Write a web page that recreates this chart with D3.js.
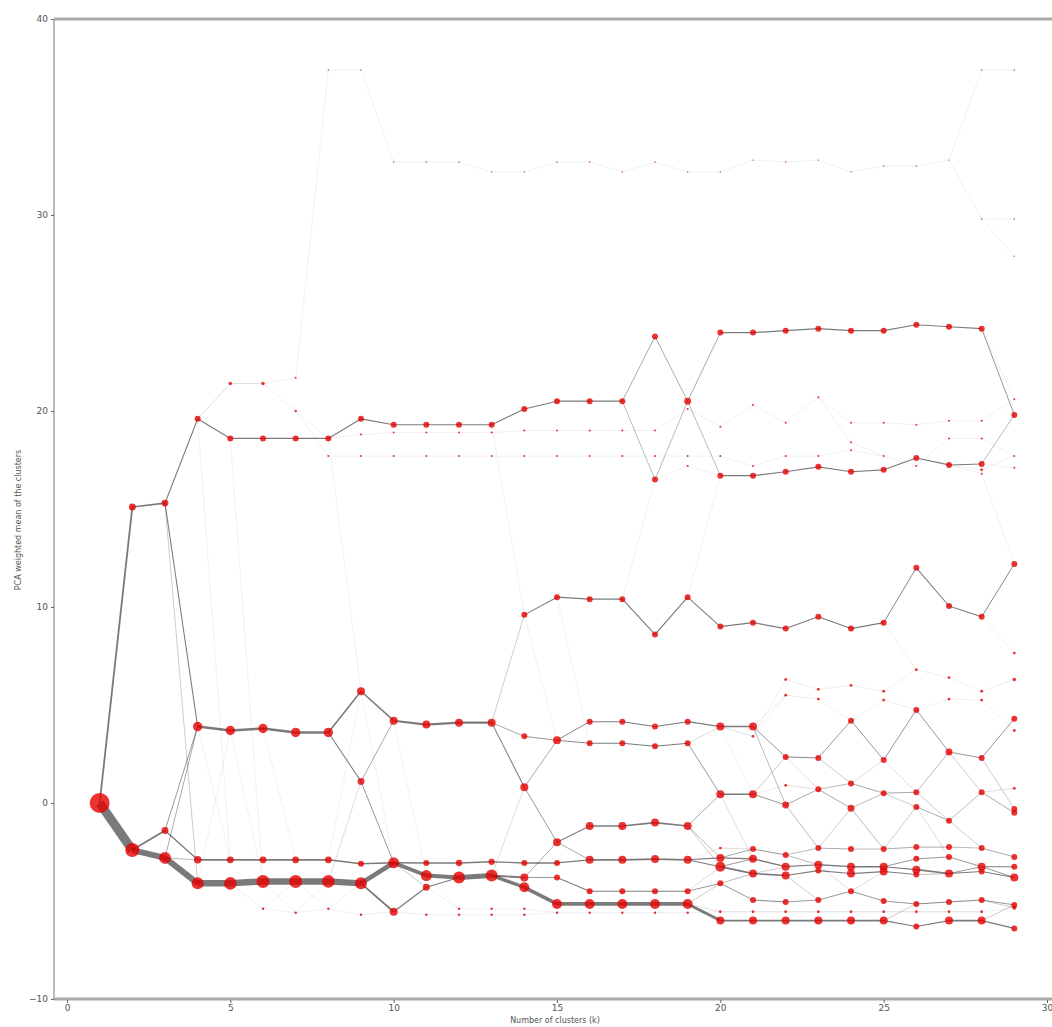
<!DOCTYPE html>
<html>
<head>
<meta charset="utf-8">
<script src="https://cdn.jsdelivr.net/npm/d3@7"></script>
<style>
  html, body { margin: 0; padding: 0; background: #fff; }
  svg { display: block; font-family: "DejaVu Sans", sans-serif; }
</style>
</head>
<body>
<div id="chart"></div>
<script>
// clustergram: mean of each cluster (PCA weighted) for k = 1..29
// each entry: [mean, share of observations %]
const clusters = [
  /* k=1  */ [[0, 100]],
  /* k=2  */ [[15.1, 12], [-2.4, 50]],
  /* k=3  */ [[15.3, 12], [-1.4, 12], [-2.8, 36]],
  /* k=4  */ [[19.6, 9], [3.9, 22], [-2.9, 14], [-4.1, 36]],
  /* k=5  */ [[21.4, 3], [18.6, 9], [3.7, 22], [-2.9, 12], [-4.1, 40]],
  /* k=6  */ [[21.4, 3], [18.6, 9], [3.8, 22], [-2.9, 12], [-4.0, 42], [-5.4, 1.5]],
  /* k=7  */ [[21.7, 1], [20.0, 1.5], [18.6, 9], [3.6, 22], [-2.9, 12], [-4.0, 42], [-5.6, 1.5]],
  /* k=8  */ [[37.4, 0.5], [18.6, 9], [17.7, 1], [3.6, 22], [-2.9, 12], [-4.0, 40], [-5.4, 1.5]],
  /* k=9  */ [[37.4, 0.5], [19.6, 9], [18.8, 1], [17.7, 1], [5.7, 16], [1.1, 12], [-3.1, 9], [-4.1, 36], [-5.7, 1.5]],
  /* k=10 */ [[32.7, 0.5], [19.3, 9], [18.9, 1], [17.7, 1], [4.2, 16], [-3.05, 30], [-5.55, 16]],
  /* k=11 */ [[32.7, 0.5], [19.3, 9], [18.9, 1], [17.7, 1], [4.0, 16], [-3.06, 9], [-3.7, 30], [-4.3, 12], [-5.7, 1.5]],
  /* k=12 */ [[32.7, 0.5], [19.3, 9], [18.9, 1], [17.7, 1], [4.1, 16], [-3.06, 10], [-3.8, 36], [-5.4, 1.5], [-5.7, 1.5]],
  /* k=13 */ [[32.2, 0.5], [19.3, 9], [18.9, 1], [17.7, 1], [4.1, 16], [-3.0, 10], [-3.7, 36], [-5.4, 1.5], [-5.7, 1.5]],
  /* k=14 */ [[32.2, 0.5], [20.1, 9], [19.0, 1], [17.7, 1], [9.6, 9], [3.4, 9], [0.8, 16], [-3.06, 9], [-3.8, 16], [-4.3, 25], [-5.4, 1.5], [-5.7, 1.5]],
  /* k=15 */ [[32.7, 0.5], [20.5, 9], [19.0, 1], [17.7, 1], [10.5, 9], [3.2, 16], [-2.0, 16], [-3.06, 9], [-3.8, 9], [-5.15, 25], [-5.6, 1.5]],
  /* k=16 */ [[32.7, 0.5], [20.5, 9], [19.0, 1], [17.7, 1], [10.4, 9], [4.15, 9], [3.05, 9], [-1.17, 16], [-2.9, 16], [-4.5, 9], [-5.15, 25], [-5.6, 1.5]],
  /* k=17 */ [[32.2, 0.5], [20.5, 9], [19.0, 1], [17.7, 1], [10.4, 9], [4.15, 9], [3.05, 9], [-1.17, 16], [-2.9, 16], [-4.5, 9], [-5.15, 25], [-5.6, 1.5]],
  /* k=18 */ [[32.7, 0.5], [23.8, 9], [19.0, 1], [17.7, 1], [16.5, 9], [8.6, 9], [3.9, 9], [2.9, 9], [-1.0, 16], [-2.86, 16], [-4.5, 9], [-5.15, 25], [-5.6, 1.5]],
  /* k=19 */ [[32.2, 0.5], [20.5, 12], [20.1, 1], [17.7, 1], [17.2, 1], [10.5, 9], [4.15, 9], [3.05, 9], [-1.17, 16], [-2.9, 16], [-4.5, 9], [-5.15, 25], [-5.6, 1.5]],
  /* k=20 */ [[32.2, 0.5], [24.0, 9], [19.2, 1], [17.7, 1], [16.7, 9], [9.0, 9], [3.9, 16], [0.45, 16], [-2.3, 2], [-2.8, 16], [-3.25, 25], [-4.1, 9], [-5.55, 2], [-6.0, 16]],
  /* k=21 */ [[32.8, 0.5], [24.0, 9], [20.3, 1], [17.2, 1], [16.7, 9], [9.2, 9], [3.9, 16], [3.4, 2], [0.45, 16], [-2.35, 9], [-2.85, 16], [-3.6, 16], [-4.95, 9], [-5.55, 2], [-6.0, 16]],
  /* k=22 */ [[32.7, 0.5], [24.1, 9], [19.4, 1], [17.7, 1], [16.9, 9], [8.9, 9], [6.3, 2], [5.5, 2], [2.35, 9], [0.9, 2], [-0.1, 12], [-2.65, 9], [-3.25, 16], [-3.7, 16], [-5.05, 9], [-5.55, 2], [-6.0, 16]],
  /* k=23 */ [[32.8, 0.5], [24.2, 9], [20.7, 1], [17.7, 1], [17.15, 9], [9.5, 9], [5.8, 2], [5.3, 2], [2.3, 9], [0.7, 9], [-2.3, 9], [-3.15, 16], [-3.45, 9], [-4.95, 9], [-5.55, 2], [-6.0, 16]],
  /* k=24 */ [[32.2, 0.5], [24.1, 9], [19.4, 1], [18.4, 1], [18.0, 1], [16.9, 9], [8.9, 9], [6.0, 2], [4.2, 9], [1.0, 9], [-0.27, 12], [-2.35, 9], [-3.25, 16], [-3.6, 16], [-4.5, 9], [-5.55, 2], [-6.0, 16]],
  /* k=25 */ [[32.5, 0.5], [24.1, 9], [19.4, 1], [17.7, 1], [17.0, 9], [9.2, 9], [5.7, 2], [5.25, 2], [2.2, 9], [0.5, 9], [-2.35, 9], [-3.25, 16], [-3.5, 16], [-5.0, 9], [-5.55, 2], [-6.0, 16]],
  /* k=26 */ [[32.5, 0.5], [24.4, 9], [19.3, 1], [17.6, 9], [17.2, 1], [12.0, 9], [6.8, 2], [4.75, 9], [0.55, 9], [-0.2, 9], [-2.25, 9], [-2.85, 9], [-3.4, 16], [-3.65, 9], [-5.15, 9], [-5.55, 2], [-6.3, 9]],
  /* k=27 */ [[32.8, 0.5], [24.3, 9], [19.5, 1], [18.6, 1], [17.25, 9], [10.05, 9], [6.4, 2], [5.3, 2], [2.6, 12], [-0.9, 9], [-2.25, 9], [-2.75, 9], [-3.6, 16], [-5.05, 9], [-5.55, 2], [-6.0, 16]],
  /* k=28 */ [[37.4, 0.5], [29.8, 0.5], [24.2, 9], [19.5, 1], [18.6, 1], [17.3, 9], [17.0, 2], [16.8, 1], [9.5, 9], [5.7, 2], [5.25, 2], [2.3, 9], [0.55, 9], [-2.3, 9], [-3.25, 16], [-3.5, 9], [-4.95, 9], [-5.55, 2], [-6.0, 16]],
  /* k=29 */ [[37.4, 0.5], [29.8, 0.5], [27.9, 0.5], [20.6, 1], [19.8, 9], [17.7, 1], [17.1, 1], [12.2, 9], [7.65, 2], [6.3, 3], [4.3, 9], [3.7, 2], [0.75, 2], [-0.3, 9], [-0.5, 9], [-2.75, 9], [-3.25, 9], [-3.8, 16], [-5.2, 9], [-5.35, 4], [-6.4, 9]]
];

// links between a cluster at k and a cluster at k+1: [k, mean at k, mean at k+1, shared %]
const links = [
  [1, 0, -2.4, 70], [1, 0, 15.1, 14],
  [2, 15.1, 15.3, 12], [2, -2.4, -1.4, 14], [2, -2.4, -2.8, 45],
  [3, 15.3, 19.6, 9], [3, 15.3, 3.9, 8], [3, 15.3, -4.1, 3], [3, -1.4, 3.9, 6], [3, -1.4, -2.9, 10],
  [3, -2.8, 3.9, 5], [3, -2.8, -4.1, 48], [3, -2.8, -2.9, 4],
  [4, 19.6, 18.6, 9], [4, 19.6, 21.4, 2], [4, 3.9, 3.7, 20], [4, 3.9, -2.9, 1], [4, -2.9, -2.9, 14],
  [4, -4.1, -4.1, 50], [4, -4.1, 3.7, 1], [4, 19.6, -2.9, 0.4],
  [5, 21.4, 21.4, 2], [5, 18.6, 18.6, 9], [5, 3.7, 3.8, 20], [5, -2.9, -2.9, 14], [5, -4.1, -4.0, 50],
  [5, -4.1, -5.4, 1.5], [5, 3.7, -4.0, 1], [5, 18.6, -4.0, 0.4],
  [6, 21.4, 21.7, 1], [6, 21.4, 20.0, 1], [6, 18.6, 18.6, 9], [6, 3.8, 3.6, 20], [6, -2.9, -2.9, 14],
  [6, -4.0, -4.0, 50], [6, -5.4, -5.6, 1], [6, -4.0, -5.6, 1], [6, -5.4, -4.0, 1], [6, 3.8, -2.9, 0.8],
  [7, 21.7, 37.4, 0.3], [7, 20.0, 17.7, 1], [7, 20.0, 18.6, 0.5], [7, 18.6, 18.6, 9], [7, 3.6, 3.6, 20],
  [7, -2.9, -2.9, 14], [7, -4.0, -4.0, 50], [7, -5.6, -5.4, 1], [7, -5.6, -4.0, 0.8], [7, -4.0, -5.4, 0.8],
  [8, 37.4, 37.4, 0.3], [8, 18.6, 19.6, 9], [8, 18.6, 18.8, 1], [8, 17.7, 17.7, 1], [8, 3.6, 5.7, 12],
  [8, 3.6, 1.1, 8], [8, -2.9, -3.1, 12], [8, -4.0, -4.1, 48], [8, -5.4, -5.7, 1], [8, -4.0, 1.1, 2],
  [8, -2.9, 5.7, 1], [8, -5.4, -4.1, 0.8], [8, 18.6, 5.7, 0.5],
  [9, 37.4, 32.7, 0.3], [9, 19.6, 19.3, 9], [9, 18.8, 18.9, 1], [9, 17.7, 17.7, 1], [9, 5.7, 4.2, 12],
  [9, 1.1, 4.2, 5], [9, 1.1, -3.05, 6], [9, -3.1, -3.05, 12], [9, -4.1, -3.05, 35], [9, -4.1, -5.55, 14],
  [9, -5.7, -5.55, 1.5], [9, 5.7, -3.05, 1],
  [10, 32.7, 32.7, 0.3], [10, 19.3, 19.3, 9], [10, 18.9, 18.9, 1], [10, 17.7, 17.7, 1], [10, 4.2, 4.0, 16],
  [10, -3.05, -3.06, 12], [10, -3.05, -3.7, 30], [10, -5.55, -4.3, 10], [10, -5.55, -5.7, 1.5],
  [10, -3.05, -4.3, 3], [10, 4.2, -3.7, 1],
  [11, 32.7, 32.7, 0.3], [11, 19.3, 19.3, 9], [11, 18.9, 18.9, 1], [11, 17.7, 17.7, 1], [11, 4.0, 4.1, 16],
  [11, -3.06, -3.06, 12], [11, -3.7, -3.8, 30], [11, -4.3, -3.8, 9], [11, -4.3, -5.4, 1], [11, -5.7, -5.7, 1.5],
  [11, -3.7, -5.4, 0.5],
  [12, 32.7, 32.2, 0.3], [12, 19.3, 19.3, 9], [12, 18.9, 18.9, 1], [12, 17.7, 17.7, 1], [12, 4.1, 4.1, 16],
  [12, -3.06, -3.0, 12], [12, -3.8, -3.7, 40], [12, -5.4, -5.4, 1], [12, -5.7, -5.7, 1.5],
  [13, 32.2, 32.2, 0.3], [13, 19.3, 20.1, 9], [13, 18.9, 19.0, 1], [13, 17.7, 17.7, 1], [13, 19.3, 9.6, 1],
  [13, 4.1, 9.6, 3], [13, 4.1, 3.4, 5], [13, 4.1, 0.8, 8], [13, -3.0, -3.06, 10], [13, -3.7, -3.8, 14],
  [13, -3.7, -4.3, 26], [13, -3.7, 0.8, 2], [13, -5.4, -5.4, 1], [13, -5.7, -5.7, 1.5],
  [14, 32.2, 32.7, 0.3], [14, 20.1, 20.5, 9], [14, 19.0, 19.0, 1], [14, 17.7, 17.7, 1], [14, 9.6, 10.5, 8],
  [14, 3.4, 3.2, 6], [14, 0.8, 3.2, 5], [14, 0.8, -2.0, 6], [14, -3.06, -3.06, 10], [14, -3.8, -3.8, 6],
  [14, -3.8, -2.0, 5], [14, -4.3, -5.15, 28], [14, -5.4, -5.6, 1], [14, -5.7, -5.6, 1], [14, 9.6, 3.2, 1],
  [15, 32.7, 32.7, 0.3], [15, 20.5, 20.5, 9], [15, 19.0, 19.0, 1], [15, 17.7, 17.7, 1], [15, 10.5, 10.4, 9],
  [15, 3.2, 4.15, 7], [15, 3.2, 3.05, 7], [15, -2.0, -1.17, 8], [15, -2.0, -2.9, 5], [15, -3.06, -2.9, 10],
  [15, -3.8, -4.5, 8], [15, -5.15, -5.15, 28], [15, -5.6, -5.6, 1.5], [15, 10.5, 3.05, 0.8],
  [16, 32.7, 32.2, 0.3], [16, 20.5, 20.5, 9], [16, 19.0, 19.0, 1], [16, 17.7, 17.7, 1], [16, 10.4, 10.4, 9],
  [16, 4.15, 4.15, 8], [16, 3.05, 3.05, 8], [16, -1.17, -1.17, 12], [16, -2.9, -2.9, 14], [16, -4.5, -4.5, 8],
  [16, -5.15, -5.15, 28], [16, -5.6, -5.6, 1.5],
  [17, 32.2, 32.7, 0.3], [17, 20.5, 23.8, 5], [17, 20.5, 16.5, 4], [17, 19.0, 19.0, 1], [17, 17.7, 17.7, 1],
  [17, 10.4, 8.6, 9], [17, 4.15, 3.9, 8], [17, 3.05, 2.9, 8], [17, -1.17, -1.0, 12], [17, -2.9, -2.86, 14],
  [17, -4.5, -4.5, 8], [17, -5.15, -5.15, 28], [17, -5.6, -5.6, 1.5], [17, 10.4, 16.5, 1],
  [18, 32.7, 32.2, 0.3], [18, 23.8, 20.5, 5], [18, 16.5, 20.5, 4], [18, 19.0, 20.1, 1], [18, 17.7, 17.7, 1],
  [18, 16.5, 17.2, 0.5], [18, 8.6, 10.5, 9], [18, 3.9, 4.15, 8], [18, 2.9, 3.05, 8], [18, -1.0, -1.17, 12],
  [18, -2.86, -2.9, 14], [18, -4.5, -4.5, 8], [18, -5.15, -5.15, 28], [18, -5.6, -5.6, 1.5],
  [19, 32.2, 32.2, 0.3], [19, 20.5, 24.0, 5], [19, 20.5, 16.7, 4], [19, 20.1, 19.2, 1], [19, 17.7, 17.7, 1],
  [19, 17.2, 16.7, 0.5], [19, 10.5, 9.0, 8], [19, 10.5, 16.7, 1], [19, 4.15, 3.9, 9], [19, 3.05, 0.45, 6],
  [19, 3.05, 3.9, 2], [19, -1.17, 0.45, 5], [19, -1.17, -2.8, 4], [19, -1.17, -3.25, 3], [19, -2.9, -2.8, 8],
  [19, -2.9, -3.25, 8], [19, -4.5, -4.1, 6], [19, -4.5, -3.25, 2], [19, -5.15, -5.55, 2], [19, -5.15, -6.0, 22],
  [19, -5.15, -4.1, 3], [19, -5.6, -5.55, 1], [19, -2.9, -2.3, 1],
  [20, 32.2, 32.8, 0.3], [20, 24.0, 24.0, 9], [20, 19.2, 20.3, 1], [20, 17.7, 17.2, 1], [20, 16.7, 16.7, 9],
  [20, 9.0, 9.2, 9], [20, 3.9, 3.9, 12], [20, 3.9, 3.4, 2], [20, 0.45, 0.45, 12], [20, -2.3, -2.35, 2],
  [20, -2.8, -2.35, 5], [20, -2.8, -2.85, 10], [20, -3.25, -2.85, 6], [20, -3.25, -3.6, 14], [20, -4.1, -3.6, 4],
  [20, -4.1, -4.95, 6], [20, -5.55, -5.55, 2], [20, -6.0, -6.0, 14], [20, 0.45, -2.85, 2], [20, 3.9, 0.45, 1],
  [21, 32.8, 32.7, 0.3], [21, 24.0, 24.1, 9], [21, 20.3, 19.4, 1], [21, 17.2, 17.7, 1], [21, 16.7, 16.9, 9],
  [21, 9.2, 8.9, 9], [21, 3.4, 6.3, 1.5], [21, 3.4, 5.5, 1], [21, 3.9, 2.35, 6], [21, 3.9, -0.1, 4],
  [21, 0.45, -0.1, 6], [21, 0.45, 2.35, 3], [21, 0.45, 0.9, 1.5], [21, -2.35, -2.65, 6], [21, -2.85, -3.25, 10],
  [21, -3.6, -3.7, 12], [21, -3.6, -3.25, 3], [21, -4.95, -5.05, 7], [21, -5.55, -5.55, 2], [21, -6.0, -6.0, 14],
  [21, 3.9, 5.5, 1],
  [22, 32.7, 32.8, 0.3], [22, 24.1, 24.2, 9], [22, 19.4, 20.7, 1], [22, 17.7, 17.7, 1], [22, 16.9, 17.15, 9],
  [22, 8.9, 9.5, 9], [22, 6.3, 5.8, 1.5], [22, 5.5, 5.3, 1.5], [22, 2.35, 2.3, 7], [22, 0.9, 0.7, 2],
  [22, -0.1, 0.7, 5], [22, -0.1, -2.3, 4], [22, -2.65, -2.3, 4], [22, -2.65, -3.15, 4], [22, -3.25, -3.15, 9],
  [22, -3.7, -3.45, 8], [22, -3.7, -4.95, 3], [22, -5.05, -4.95, 6], [22, -5.55, -5.55, 2], [22, -6.0, -6.0, 14],
  [22, 2.35, 0.7, 2],
  [23, 32.8, 32.2, 0.3], [23, 24.2, 24.1, 9], [23, 20.7, 19.4, 1], [23, 20.7, 18.4, 0.5], [23, 17.7, 18.0, 1],
  [23, 17.15, 16.9, 9], [23, 9.5, 8.9, 9], [23, 5.8, 6.0, 1.5], [23, 5.3, 4.2, 1], [23, 2.3, 4.2, 6],
  [23, 2.3, 1.0, 3], [23, 0.7, 1.0, 4], [23, 0.7, -0.27, 5], [23, -2.3, -0.27, 3], [23, -2.3, -2.35, 5],
  [23, -3.15, -3.25, 10], [23, -3.45, -3.6, 8], [23, -4.95, -4.5, 6], [23, -5.55, -5.55, 2], [23, -6.0, -6.0, 14],
  [23, -3.15, -4.5, 2],
  [24, 32.2, 32.5, 0.3], [24, 24.1, 24.1, 9], [24, 19.4, 19.4, 1], [24, 18.4, 17.7, 0.5], [24, 18.0, 17.7, 0.5],
  [24, 16.9, 17.0, 9], [24, 8.9, 9.2, 9], [24, 6.0, 5.7, 1.5], [24, 4.2, 5.25, 1], [24, 4.2, 2.2, 6],
  [24, 1.0, 2.2, 2], [24, 1.0, 0.5, 5], [24, -0.27, 0.5, 4], [24, -0.27, -2.35, 4], [24, -2.35, -2.35, 4],
  [24, -3.25, -3.25, 12], [24, -3.6, -3.5, 10], [24, -4.5, -5.0, 6], [24, -4.5, -3.5, 2], [24, -5.55, -5.55, 2],
  [24, -6.0, -6.0, 14],
  [25, 32.5, 32.5, 0.3], [25, 24.1, 24.4, 9], [25, 19.4, 19.3, 1], [25, 17.7, 17.2, 1], [25, 17.0, 17.6, 9],
  [25, 9.2, 12.0, 7], [25, 9.2, 6.8, 1], [25, 5.7, 6.8, 1], [25, 5.25, 4.75, 1.5], [25, 2.2, 4.75, 6],
  [25, 2.2, 0.55, 2], [25, 0.5, 0.55, 5], [25, 0.5, -0.2, 3], [25, -2.35, -0.2, 3], [25, -2.35, -2.25, 5],
  [25, -3.25, -2.85, 6], [25, -3.25, -3.4, 8], [25, -3.5, -3.65, 8], [25, -5.0, -5.15, 6], [25, -5.55, -5.55, 2],
  [25, -6.0, -6.3, 9], [25, -6.0, -5.15, 3],
  [26, 32.5, 32.8, 0.3], [26, 24.4, 24.3, 9], [26, 19.3, 19.5, 1], [26, 17.6, 17.25, 9], [26, 17.2, 18.6, 0.5],
  [26, 12.0, 10.05, 8], [26, 6.8, 6.4, 1.5], [26, 4.75, 5.3, 1], [26, 4.75, 2.6, 6], [26, 0.55, 2.6, 4],
  [26, 0.55, -0.9, 3], [26, -0.2, -0.9, 5], [26, -2.25, -2.25, 5], [26, -2.85, -2.75, 6], [26, -3.4, -3.6, 12],
  [26, -3.65, -3.6, 4], [26, -5.15, -5.05, 7], [26, -5.55, -5.55, 2], [26, -6.3, -6.0, 9], [26, -0.2, -2.75, 2],
  [27, 32.8, 37.4, 0.3], [27, 32.8, 29.8, 0.3], [27, 24.3, 24.2, 9], [27, 19.5, 19.5, 1], [27, 18.6, 18.6, 0.8],
  [27, 17.25, 17.3, 8], [27, 17.25, 17.0, 1], [27, 17.25, 16.8, 0.5], [27, 10.05, 9.5, 8], [27, 6.4, 5.7, 1],
  [27, 5.3, 5.25, 1], [27, 2.6, 2.3, 6], [27, 2.6, 0.55, 3], [27, -0.9, 0.55, 4], [27, -0.9, -2.3, 3],
  [27, -2.25, -2.3, 4], [27, -2.75, -3.25, 6], [27, -3.6, -3.25, 6], [27, -3.6, -3.5, 8], [27, -5.05, -4.95, 7],
  [27, -5.55, -5.55, 2], [27, -6.0, -6.0, 14],
  [28, 37.4, 37.4, 0.3], [28, 29.8, 29.8, 0.3], [28, 29.8, 27.9, 0.3], [28, 24.2, 19.8, 6], [28, 24.2, 20.6, 1],
  [28, 19.5, 20.6, 0.5], [28, 18.6, 17.7, 0.5], [28, 17.3, 19.8, 4], [28, 17.3, 17.1, 1], [28, 17.0, 17.7, 1],
  [28, 16.8, 12.2, 1], [28, 9.5, 12.2, 7], [28, 9.5, 7.65, 1], [28, 5.7, 6.3, 1.5], [28, 5.25, 3.7, 1],
  [28, 2.3, 4.3, 6], [28, 2.3, -0.3, 3], [28, 0.55, 0.75, 2], [28, 0.55, -0.5, 5], [28, -2.3, -2.75, 5],
  [28, -3.25, -3.25, 8], [28, -3.25, -3.8, 6], [28, -3.5, -3.8, 8], [28, -4.95, -5.2, 6], [28, -4.95, -5.35, 3],
  [28, -5.55, -5.35, 1], [28, -6.0, -6.4, 9], [28, -6.0, -5.2, 3]
];

const xTicks = [0, 5, 10, 15, 20, 25, 30];
const yTicks = [-10, 0, 10, 20, 30, 40];
const xLabel = "Number of clusters (k)";
const yLabel = "PCA weighted mean of the clusters";

const width = 1052, height = 1027;
const margin = {top: 19, left: 54, bottom: 28};

const svg = d3.select("#chart").append("svg")
  .attr("width", width)
  .attr("height", height);

const x = d3.scaleLinear().domain([0, 30]).range([67, 1047]);
const y = d3.scaleLinear().domain([-10, 40]).range([999, 19]);
const r = d3.scaleSqrt().domain([0, 100]).range([0, 10]);
const lw = d3.scaleLinear().domain([0, 100]).range([0, 13]);

// find the cluster at k closest to a given mean
function nearest(k, v) {
  const col = clusters[k - 1];
  let best = col[0][0];
  col.forEach(c => { if (Math.abs(c[0] - v) < Math.abs(best - v)) best = c[0]; });
  return best;
}

// links first, clusters on top
svg.append("g")
  .selectAll("line")
  .data(links)
  .join("line")
  .attr("x1", d => x(d[0]))
  .attr("x2", d => x(d[0] + 1))
  .attr("y1", d => y(nearest(d[0], d[1])))
  .attr("y2", d => y(nearest(d[0] + 1, d[2])))
  .attr("stroke", "#000")
  .attr("stroke-opacity", d => d[3] < 2 ? 0.4 : 0.52)
  .attr("stroke-linecap", "butt")
  .attr("stroke-width", d => Math.max(0.15, lw(d[3])));

const pts = [];
clusters.forEach((col, i) => col.forEach(c => pts.push({k: i + 1, v: c[0], s: c[1]})));

svg.append("g")
  .selectAll("circle")
  .data(pts)
  .join("circle")
  .attr("cx", d => x(d.k))
  .attr("cy", d => y(d.v))
  .attr("r", d => r(d.s))
  .attr("fill", "#e60000")
  .attr("fill-opacity", 0.8);

// spines
const axisColor = "#a9a9a9";
svg.append("line").attr("x1", margin.left).attr("x2", width)
  .attr("y1", y(40)).attr("y2", y(40))
  .attr("stroke", axisColor).attr("stroke-width", 3);
svg.append("line").attr("x1", margin.left).attr("x2", width)
  .attr("y1", y(-10)).attr("y2", y(-10))
  .attr("stroke", axisColor).attr("stroke-width", 3);
svg.append("line").attr("x1", margin.left).attr("x2", margin.left)
  .attr("y1", y(40)).attr("y2", y(-10))
  .attr("stroke", axisColor).attr("stroke-width", 1.6);

// axes (ticks + labels only, spines drawn above)
const yAxis = d3.axisLeft(y).tickValues(yTicks).tickSize(3).tickPadding(3);
const gy = svg.append("g").attr("transform", `translate(${margin.left},0)`).call(yAxis);
const xAxis = d3.axisBottom(x).tickValues(xTicks).tickSize(3).tickPadding(2);
const gx = svg.append("g").attr("transform", `translate(0,${y(-10) + 1})`).call(xAxis);
[gx, gy].forEach(g => {
  g.select(".domain").remove();
  g.selectAll(".tick line").attr("stroke", "#666");
  g.selectAll(".tick text").attr("fill", "#555").style("font-size", "9px")
    .style("font-family", "DejaVu Sans, sans-serif");
});

svg.append("text")
  .attr("x", 555).attr("y", 1023)
  .attr("text-anchor", "middle")
  .attr("fill", "#555")
  .style("font-size", "8px")
  .text(xLabel);

svg.append("text")
  .attr("transform", "rotate(-90)")
  .attr("x", -520).attr("y", 21)
  .attr("text-anchor", "middle")
  .attr("fill", "#555")
  .style("font-size", "8px")
  .text(yLabel);
</script>
</body>
</html>
